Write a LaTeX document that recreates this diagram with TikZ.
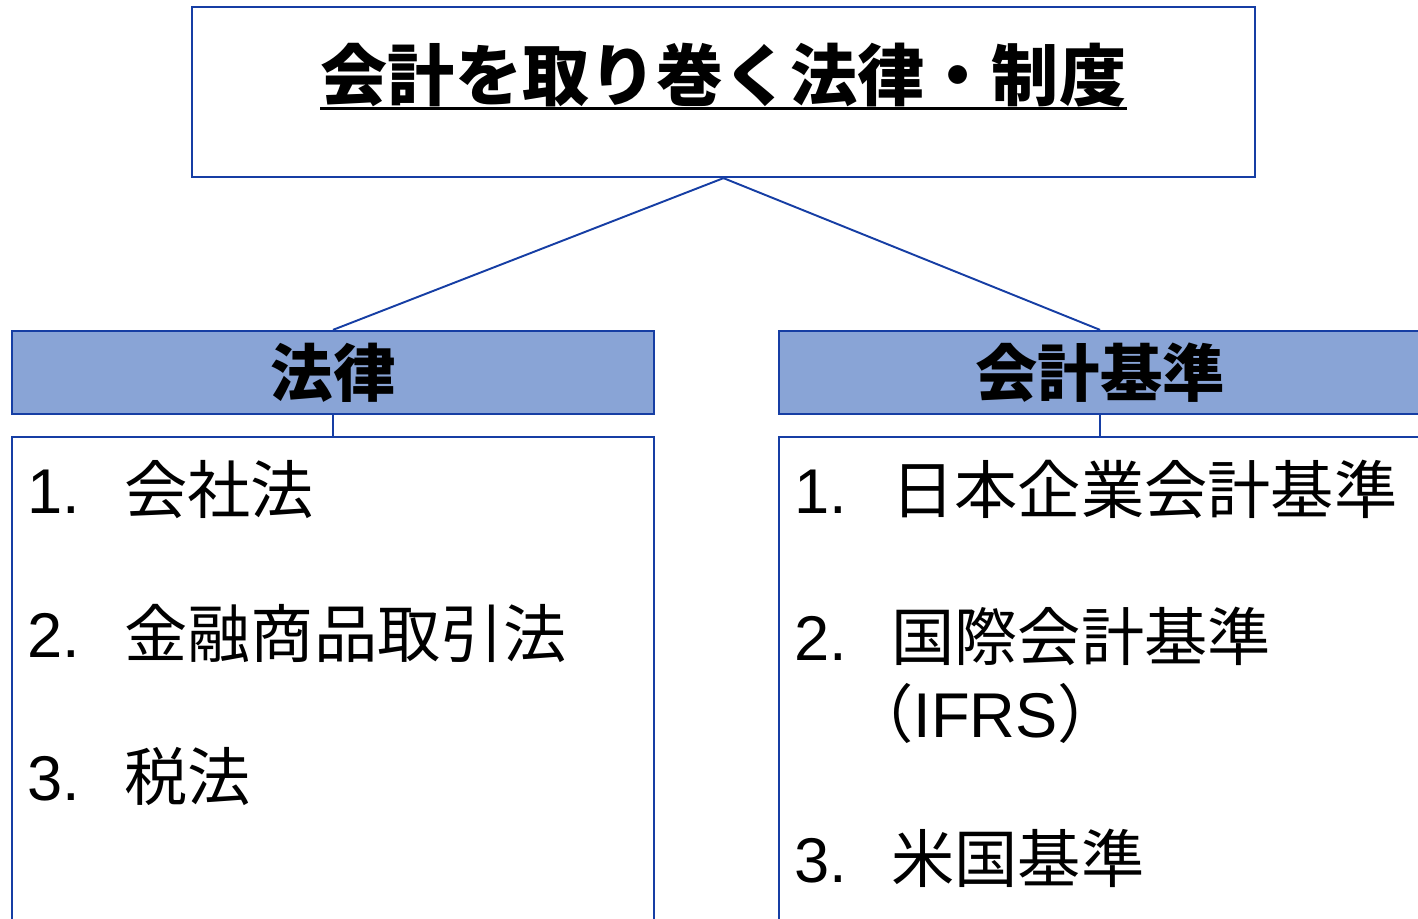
\documentclass[tikz,border=0pt]{standalone}
\usepackage{fontspec}
\setmainfont{Liberation Sans}
\newfontfamily\cjk{Noto Sans CJK JP}
\usetikzlibrary{positioning}
\definecolor{frameblue}{RGB}{22,62,164}
\definecolor{headblue}{RGB}{137,164,214}
\newcommand{\entry}[2]{\makebox[1.94cm][l]{#1}{\cjk #2}}

\begin{document}
\begin{tikzpicture}[
    x=0.02cm, y=-0.02cm,
    frame/.style={rectangle, draw=frameblue, line width=1.3pt},
    titlebox/.style={frame, minimum width=21.26cm, minimum height=3.4cm},
    titletext/.style={inner sep=0pt, anchor=base, font=\cjk\bfseries\fontsize{38.2}{42}\selectfont},
    head/.style={frame, fill=headblue, minimum width=12.84cm, minimum height=1.66cm, font=\cjk\bfseries\fontsize{35.5}{40}\selectfont},
    listbox/.style={frame, fill=white, minimum width=12.84cm, minimum height=10.46cm},
    item/.style={inner sep=0pt, anchor=base west, font=\fontsize{36}{40}\selectfont},
    link/.style={draw=frameblue, line width=1.1pt}
]
\useasboundingbox (0,0) rectangle (1418,919);

% Title box
\node[titlebox] (top) at (723.5,92) {};
\node[titletext] (title) at (723.5,101) {会計を取り巻く法律・制度};
\draw[line width=1.8pt] ([yshift=-0.15cm]title.base west) -- ([yshift=-0.15cm]title.base east);

% Two headers
\node[head] (lawhead) at (333,372.5) {法律};
\node[head] (stdhead) at (1100,372.5) {会計基準};

% Two lists
\node[listbox] (lawlist) at (333,698.5) {};
\node[listbox] (stdlist) at (1100,698.5) {};

% Links
\draw[link] (top.south) -- (lawhead.north);
\draw[link] (top.south) -- (stdhead.north);
\draw[link] (lawhead.south) -- (lawlist.north);
\draw[link] (stdhead.south) -- (stdlist.north);

% Law items
\node[item] (law1) at (27,513) {\entry{1.}{会社法}};
\node[item] (law2) at (27,657) {\entry{2.}{金融商品取引法}};
\node[item] (law3) at (27,800) {\entry{3.}{税法}};

% Standard items
\node[item] (std1) at (794,513) {\entry{1.}{日本企業会計基準}};
\node[item] (std2) at (794,660) {\entry{2.}{国際会計基準}};
\node[item] (ifrs) at (850,737) {{\cjk （}IFRS{\cjk ）}};
\node[item] (std3) at (794,882) {\entry{3.}{米国基準}};

\end{tikzpicture}
\end{document}
